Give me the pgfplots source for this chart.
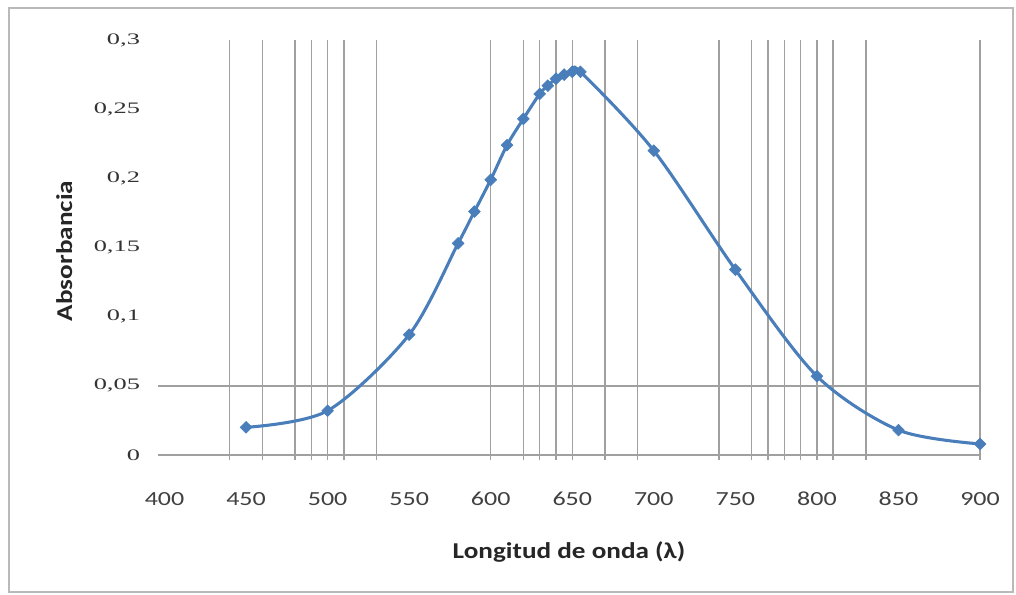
\documentclass[border=0pt]{standalone}
\usepackage{fontspec}
\setmainfont{Carlito}
\newfontfamily\yfont[FakeStretch=1.65]{Liberation Serif}
\newfontfamily\xfont[FakeStretch=1.3]{Carlito}
\newfontfamily\lfont[FakeStretch=1.2]{Carlito}
\usepackage{pgfplots}
\pgfplotsset{compat=1.18}
\definecolor{serie}{RGB}{74,126,187}
\definecolor{gridc}{RGB}{160,160,160}
\begin{document}
\begin{tikzpicture}
\path[use as bounding box] (0pt,0pt) rectangle (762pt,446.25pt);
\draw[gray!55, line width=0.9pt] (6.75pt,2.25pt) rectangle (759.75pt,440.25pt);
\begin{axis}[
  at={(118.5pt,105pt)}, anchor=south west,
  scale only axis, width=616.5pt, height=311.25pt,
  xmin=396, xmax=900, ymin=0, ymax=0.3,
  clip=false,
  /pgf/number format/assume math mode=true,
  axis x line*=bottom, axis y line*=left,
  x axis line style={draw=gridc, line width=1.1pt, -},
  y axis line style={draw=none},
  xtick={400,450,...,900},
  ytick={0,0.05,0.1,0.15,0.2,0.25,0.3},
  yticklabels={0,{0,05},{0,1},{0,15},{0,2},{0,25},{0,3}},
  major tick length=0pt,
  tick align=outside,
  xticklabel style={font=\xfont\fontsize{15}{18}\selectfont, text=black!75, anchor=center, yshift=-33pt},
  yticklabel style={font=\yfont\fontsize{12}{14}\selectfont, text=black!80, anchor=east, xshift=-10pt},
  extra x ticks={440,460,480,490,500,510,530,600,620,630,640,650,670,690,740,760,770,780,790,800,810,830,900},
  extra x tick labels={},
  extra x tick style={grid=major, major tick length=4pt, tick style={draw=gridc, line width=1.1pt}},
  extra y ticks={0.05},
  extra y tick labels={},
  extra y tick style={grid=major},
  major grid style={draw=gridc, line width=1.1pt},
  xlabel={Longitud de onda (λ)},
  ylabel={Absorbancia},
  xlabel style={at={(axis description cs:0.5,-0.234)}, anchor=center, font=\lfont\bfseries\fontsize{17}{20}\selectfont, text=black!85},
  ylabel style={at={(axis description cs:-0.114,0.4916)}, anchor=center, font=\lfont\bfseries\fontsize{17}{20}\selectfont, text=black!85},
]
\addplot[serie, line width=2.3pt, smooth, mark=square*, mark size=3.1pt,
  mark options={rotate=45, fill=serie, draw=serie, line width=0.5pt}]
  coordinates {
  (450,0.020) (500,0.032) (550,0.087) (580,0.153) (590,0.176) (600,0.199)
  (610,0.224) (620,0.243) (630,0.261) (635,0.267) (640,0.272) (645,0.275)
  (650,0.277) (655,0.277) (700,0.220) (750,0.134) (800,0.057) (850,0.018)
  (900,0.008)
  };
\end{axis}
\end{tikzpicture}
\end{document}
